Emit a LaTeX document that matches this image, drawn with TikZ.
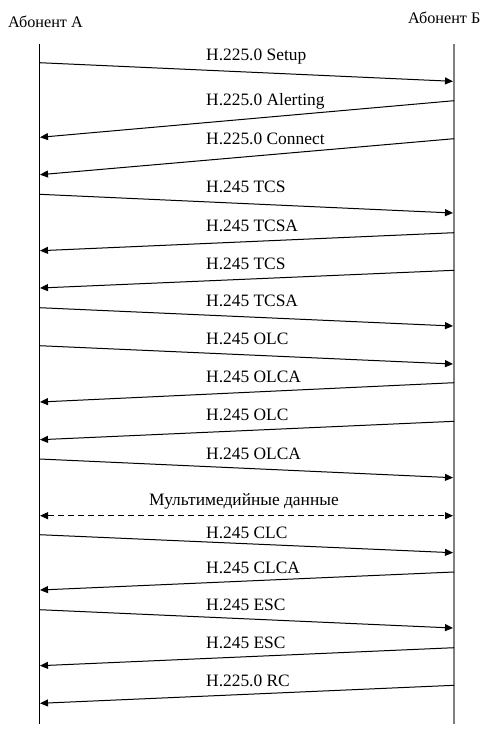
\documentclass[tikz,border=0pt]{standalone}
\usepackage{fontspec}
\setmainfont{Liberation Serif}
\usetikzlibrary{arrows.meta}
\begin{document}
\begin{tikzpicture}[x=1pt,y=-1pt,
  lbl/.style={anchor=base west,inner sep=0pt,font=\fontsize{17.4}{19}\selectfont},
  head/.style={anchor=base west,inner sep=0pt,font=\fontsize{16.2}{18}\selectfont},
  msg/.style={line width=1pt,-{Triangle[length=8pt,width=7pt]}},
  dmsg/.style={line width=1pt,dash pattern=on 6pt off 4pt,{Triangle[length=8pt,width=7pt]}-{Triangle[length=8pt,width=7pt]}},
  lifeA/.style={line width=1.2pt,black},
  lifeB/.style={line width=2pt,black!50}]
\useasboundingbox (0,0) rectangle (492,732);
% headers
\node[head] (hA) at (8,27) {Абонент А};
\node[head] (hB) at (408,23) {Абонент Б};
% lifelines
\coordinate (A0) at (39.5,43.5);
\coordinate (A1) at (39.5,723.5);
\coordinate (B0) at (454,43.5);
\coordinate (B1) at (454,723.5);
\draw[lifeA] (A0) -- (A1);
\draw[lifeB] (B0) -- (B1);
% message endpoints
\coordinate (a1) at (39.5,62.7);  \coordinate (b1) at (453,81.3);
\coordinate (b2) at (454,100.7);  \coordinate (a2) at (40,137.3);
\coordinate (b3) at (454,138.7);  \coordinate (a3) at (40,174.7);
\coordinate (a4) at (39.5,194.3); \coordinate (b4) at (453,213);
\coordinate (b5) at (454,232.7);  \coordinate (a5) at (40,250.7);
\coordinate (b6) at (454,270.3);  \coordinate (a6) at (40,288);
\coordinate (a7) at (39.5,307.7); \coordinate (b7) at (453,326);
\coordinate (a8) at (39.5,345.7); \coordinate (b8) at (453,364);
\coordinate (b9) at (454,382.7);  \coordinate (a9) at (40,402);
\coordinate (b10) at (454,421.3); \coordinate (a10) at (40,439.7);
\coordinate (a11) at (39.5,459);  \coordinate (b11) at (453,477.7);
\coordinate (a12) at (40,515.7);  \coordinate (b12) at (453,515.7);
\coordinate (a13) at (39.5,534.7); \coordinate (b13) at (453,552.7);
\coordinate (b14) at (454,572);   \coordinate (a14) at (40,590);
\coordinate (a15) at (39.5,609.7); \coordinate (b15) at (453,628);
\coordinate (b16) at (454,647.7); \coordinate (a16) at (40,665.7);
\coordinate (b17) at (454,685.3); \coordinate (a17) at (40,703.3);
% messages
\draw[msg] (a1) -- (b1);
\draw[msg] (b2) -- (a2);
\draw[msg] (b3) -- (a3);
\draw[msg] (a4) -- (b4);
\draw[msg] (b5) -- (a5);
\draw[msg] (b6) -- (a6);
\draw[msg] (a7) -- (b7);
\draw[msg] (a8) -- (b8);
\draw[msg] (b9) -- (a9);
\draw[msg] (b10) -- (a10);
\draw[msg] (a11) -- (b11);
\draw[dmsg] (a12) -- (b12);
\draw[msg] (a13) -- (b13);
\draw[msg] (b14) -- (a14);
\draw[msg] (a15) -- (b15);
\draw[msg] (b16) -- (a16);
\draw[msg] (b17) -- (a17);
% labels
\node[lbl] (l1) at (206,60) {H.225.0 Setup};
\node[lbl] (l2) at (206,105) {H.225.0 Alerting};
\node[lbl] (l3) at (206,144) {H.225.0 Connect};
\node[lbl] (l4) at (206,192) {H.245 TCS};
\node[lbl] (l5) at (206,231) {H.245 TCSA};
\node[lbl] (l6) at (206,269) {H.245 TCS};
\node[lbl] (l7) at (206,306) {H.245 TCSA};
\node[lbl] (l8) at (206,344) {H.245 OLC};
\node[lbl] (l9) at (206,382) {H.245 OLCA};
\node[lbl] (l10) at (206,420) {H.245 OLC};
\node[lbl] (l11) at (206,459) {H.245 OLCA};
\node[lbl,anchor=base] (l12) at (244,505) {Мультимедийные данные};
\node[lbl] (l13) at (206,538) {H.245 CLC};
\node[lbl] (l14) at (206,573) {H.245 CLCA};
\node[lbl] (l15) at (206,610) {H.245 ESC};
\node[lbl] (l16) at (206,648) {H.245 ESC};
\node[lbl] (l17) at (206,686) {H.225.0 RC};
\end{tikzpicture}
\end{document}
